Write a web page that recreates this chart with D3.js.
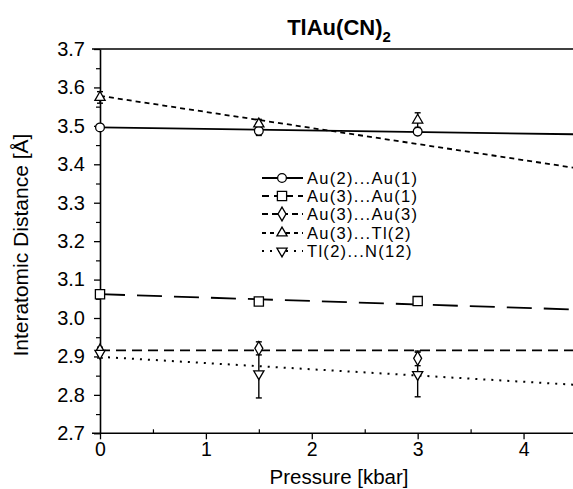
<!DOCTYPE html>
<html><head><meta charset="utf-8">
<script src="https://cdn.jsdelivr.net/npm/d3@7"></script>
<style>body{margin:0;background:#fff}svg{display:block}text{font-family:"Liberation Sans",Arial,Helvetica,sans-serif;fill:#000}</style>
</head><body>
<script>
// ---- data ----
const pressures = [0, 1.5, 3];
const seriesNames = ["Au(2)...Au(1)", "Au(3)...Au(1)", "Au(3)...Au(3)", "Au(3)...Tl(2)", "Tl(2)...N(12)"];
const au2au1 = [3.496, 3.487, 3.485];
const au2au1Err = [0.004, 0.012, 0.004];
const au3au1 = [3.062, 3.043, 3.044];
const au3au1Err = [0.003, 0.004, 0.004];
const au3au3 = [2.914, 2.921, 2.895];
const au3au3Err = [0.010, 0.017, 0.019];
const au3tl2 = [3.574, 3.505, 3.515];
const au3tl2Err = [0.015, 0.012, 0.019];
const tl2n12 = [2.908, 2.855, 2.853];
const tl2n12Err = [0.012, 0.063, 0.058];
const fitX = [0, 4.5];
const fitAu2Au1 = [3.496, 3.478];
const fitAu3Au1 = [3.062, 3.022];
const fitAu3Au3 = [2.916, 2.916];
const fitAu3Tl2 = [3.578, 3.390];
const fitTl2N12 = [2.899, 2.826];
const xTicks = [0, 1, 2, 3, 4];
const xMinorTicks = [0.5, 1.5, 2.5, 3.5];
const yTicks = [2.7, 2.8, 2.9, 3.0, 3.1, 3.2, 3.3, 3.4, 3.5, 3.6, 3.7];
const yMinorTicks = [2.75, 2.85, 2.95, 3.05, 3.15, 3.25, 3.35, 3.45, 3.55, 3.65];

const W = 573, H = 489;
const svg = d3.select("body").append("svg").attr("width", W).attr("height", H);
svg.append("rect").attr("width", W).attr("height", H).attr("fill", "#fff");

const x = d3.scaleLinear().domain([0, 4.5]).range([100, 576.5]);
const y = d3.scaleLinear().domain([2.7, 3.7]).range([433.3, 49]);

// frame lines
svg.append("line").attr("x1", 92).attr("x2", W).attr("y1", y(3.7)).attr("y2", y(3.7)).attr("stroke", "#000").attr("stroke-width", 1.6);
svg.append("line").attr("x1", 92).attr("x2", W).attr("y1", y(2.7)).attr("y2", y(2.7)).attr("stroke", "#000").attr("stroke-width", 1.6);

// y axis
const yAxis = svg.append("g").attr("transform", `translate(${x(0)},0)`)
  .call(d3.axisLeft(y).tickValues(yTicks).tickSize(6).tickSizeOuter(0).tickPadding(9).tickFormat(d3.format(".1f")));
yAxis.select(".domain").attr("stroke-width", 1.6);
yAxis.selectAll(".tick line").attr("stroke-width", 1.3);
yAxis.selectAll(".tick text").style("font-size", "20px");
const yMinor = svg.append("g").attr("transform", `translate(${x(0)},0)`)
  .call(d3.axisLeft(y).tickValues(yMinorTicks).tickSize(4).tickFormat(""));
yMinor.select(".domain").remove();
yMinor.selectAll(".tick line").attr("stroke-width", 1.2);

// x axis
const xAxis = svg.append("g").attr("transform", `translate(0,${y(2.7)})`)
  .call(d3.axisBottom(x).tickValues(xTicks).tickSize(6).tickSizeOuter(0).tickPadding(3).tickFormat(d3.format("d")));
xAxis.select(".domain").remove();
xAxis.selectAll(".tick line").attr("stroke-width", 1.3);
xAxis.selectAll(".tick text").style("font-size", "19.5px");
const xMinor = svg.append("g").attr("transform", `translate(0,${y(2.7)})`)
  .call(d3.axisBottom(x).tickValues(xMinorTicks).tickSize(-4).tickFormat(""));
xMinor.select(".domain").remove();
xMinor.selectAll(".tick line").attr("stroke-width", 1.2);

// titles
const t = svg.append("text").attr("x", 339).attr("y", 35).attr("text-anchor", "middle")
  .style("font-size", "22px").style("font-weight", "bold");
t.append("tspan").text("TlAu(CN)");
t.append("tspan").attr("dy", 7).style("font-size", "15px").text("2");
svg.append("text").attr("x", 339).attr("y", 484).attr("text-anchor", "middle").style("font-size", "20.5px").text("Pressure [kbar]");
svg.append("text").attr("transform", `translate(28,${(y(2.7) + y(3.7)) / 2 + 4}) rotate(-90)`)
  .attr("text-anchor", "middle").style("font-size", "21px").text("Interatomic Distance [Å]");

// series definitions
const series = [
  {name: seriesNames[0], vals: au2au1, err: au2au1Err, fit: fitAu2Au1, dash: null, sym: d3.symbolCircle, size: 60},
  {name: seriesNames[1], vals: au3au1, err: au3au1Err, fit: fitAu3Au1, dash: "25,12", sym: d3.symbolSquare, size: 85},
  {name: seriesNames[2], vals: au3au3, err: au3au3Err, fit: fitAu3Au3, dash: "10,6", sym: d3.symbolDiamond, size: 55},
  {name: seriesNames[3], vals: au3tl2, err: au3tl2Err, fit: fitAu3Tl2, dash: "5,4", sym: d3.symbolTriangle, size: 45},
  {name: seriesNames[4], vals: tl2n12, err: tl2n12Err, fit: fitTl2N12, dash: "2,6", sym: "down", size: 45}
];
function symPath(s) {
  return d3.symbol().type(s.sym === "down" ? d3.symbolTriangle : s.sym).size(s.size)();
}
function symRot(s) { return s.sym === "down" ? " rotate(180)" : ""; }

const line = d3.line().x(d => x(d[0])).y(d => y(d[1]));
series.forEach(s => {
  svg.append("path").attr("d", line(fitX.map((px, i) => [px, s.fit[i]])))
    .attr("fill", "none").attr("stroke", "#000").attr("stroke-width", s.dash === "2,6" ? 2 : 1.8)
    .attr("stroke-dasharray", s.dash);
});
// error bars
series.forEach(s => {
  pressures.forEach((p, i) => {
    const g = svg.append("g").attr("stroke", "#000").attr("stroke-width", 1.4);
    const y0 = y(s.vals[i] - s.err[i]), y1 = y(s.vals[i] + s.err[i]);
    g.append("line").attr("x1", x(p)).attr("x2", x(p)).attr("y1", y0).attr("y2", y1);
    g.append("line").attr("x1", x(p) - 3).attr("x2", x(p) + 3).attr("y1", y0).attr("y2", y0);
    g.append("line").attr("x1", x(p) - 3).attr("x2", x(p) + 3).attr("y1", y1).attr("y2", y1);
  });
});
// markers
series.forEach(s => {
  pressures.forEach((p, i) => {
    svg.append("path").attr("d", symPath(s))
      .attr("transform", `translate(${x(p)},${y(s.vals[i])})${symRot(s)}`)
      .attr("fill", "#fff").attr("stroke", "#000").attr("stroke-width", 1.3);
  });
});

// legend
const legendRows = [178, 196, 214, 233, 251];
series.forEach((s, i) => {
  const ly = legendRows[i];
  svg.append("line").attr("x1", 262).attr("x2", 303).attr("y1", ly).attr("y2", ly)
    .attr("stroke", "#000").attr("stroke-width", s.dash === "2,6" ? 2 : 1.8)
    .attr("stroke-dasharray", s.dash === "25,12" ? "7,5" : s.dash === "10,6" ? "6,4" : s.dash === "5,4" ? "4,4" : s.dash);
  svg.append("path").attr("d", symPath(s)).attr("transform", `translate(282,${ly})${symRot(s)}`)
    .attr("fill", "#fff").attr("stroke", "#000").attr("stroke-width", 1.3);
  svg.append("text").attr("x", 307).attr("y", ly).attr("dy", "0.35em")
    .style("font-size", "16.5px").style("letter-spacing", "1.3px").text(s.name);
});
</script>
</body></html>
